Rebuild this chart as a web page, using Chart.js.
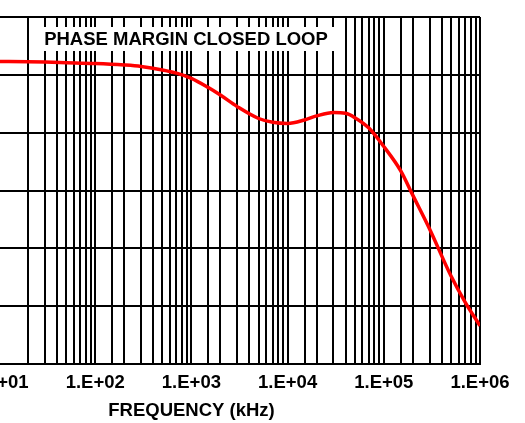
<!DOCTYPE html>
<html>
<head>
<meta charset="utf-8">
<script src="https://cdn.jsdelivr.net/npm/chart.js@4/dist/chart.umd.min.js"></script>
<style>
  body { margin: 0; background: #fff; overflow: hidden; width: 525px; height: 423px; position: relative; }
  #grafica { position: absolute; left: -100px; top: 0; }
</style>
</head>
<body>
<canvas id="grafica" width="625" height="423"></canvas>
<script>
// Frecuencia en kHz y margen de fase (grados)
const frecuencias = [10, 20, 30, 50, 100, 200, 300, 500, 700, 1000, 1500, 2000, 3000, 5000, 7000,
  10000, 15000, 20000, 30000, 40000, 50000, 70000, 100000, 150000, 200000, 300000, 500000, 700000, 1000000];
const margenFase = [52.3, 52.25, 52.2, 52.1, 51.96, 51.7, 51.45, 50.85, 50.3, 49.4, 47.8, 46.5, 44.5, 42.45, 41.8,
  41.6, 42.2, 42.9, 43.5, 43.35, 42.6, 40.8, 37.6, 33.4, 29.2, 23.3, 15.2, 10.7, 6.6];
const etiquetasDecadas = ['1.E+01', '1.E+02', '1.E+03', '1.E+04', '1.E+05', '1.E+06'];

const tituloGrafica = 'PHASE MARGIN CLOSED LOOP';
const tituloEjeX = 'FREQUENCY (kHz)';

const fuente = 'bold 18.5px "Liberation Sans", Arial, sans-serif';
Chart.defaults.font.family = '"Liberation Sans", Arial, sans-serif';
Chart.defaults.font.weight = 'bold';
Chart.defaults.font.size = 18.5;
Chart.defaults.color = '#000';

// Textos: caja del titulo sobre la rejilla y titulo del eje X
const textos = {
  id: 'textos',
  beforeDatasetsDraw(chart) {
    const ctx = chart.ctx;
    const a = chart.chartArea;
    ctx.save();
    ctx.fillStyle = '#fff';
    ctx.fillRect(a.left + 38, a.top + 10, 302, 24);
    ctx.fillStyle = '#000';
    ctx.font = fuente;
    ctx.textAlign = 'center';
    ctx.textBaseline = 'middle';
    ctx.fillText(tituloGrafica, a.left + 187, a.top + 23);
    ctx.restore();
  },
  afterDraw(chart) {
    const ctx = chart.ctx;
    ctx.save();
    ctx.fillStyle = '#000';
    ctx.font = fuente;
    ctx.textAlign = 'center';
    ctx.textBaseline = 'middle';
    ctx.fillText(tituloEjeX, chart.chartArea.left + 192.5, 411);
    ctx.restore();
  }
};

new Chart(document.getElementById('grafica'), {
  type: 'line',
  data: {
    datasets: [{
      data: frecuencias.map((f, i) => ({ x: f, y: margenFase[i] })),
      borderColor: '#ff0000',
      borderWidth: 3.5,
      pointRadius: 0,
      cubicInterpolationMode: 'monotone',
      fill: false
    }]
  },
  options: {
    responsive: false,
    devicePixelRatio: 1,
    animation: false,
    layout: { padding: { left: 99, right: 45, top: 17, bottom: 0 } },
    plugins: { legend: { display: false }, tooltip: { enabled: false } },
    scales: {
      x: {
        type: 'logarithmic',
        min: 10,
        max: 1000000,
        grid: { color: '#000', lineWidth: 2, drawTicks: false },
        border: { color: '#000', width: 2 },
        ticks: {
          autoSkip: false,
          maxRotation: 0,
          padding: 8,
          callback: (valor) => {
            const e = Math.log10(valor);
            return Math.abs(e - Math.round(e)) < 1e-9 ? etiquetasDecadas[Math.round(e) - 1] : '';
          }
        },
        afterFit: (escala) => { escala.height = 59; }
      },
      y: {
        min: 0,
        max: 60,
        ticks: { stepSize: 10, display: false },
        grid: { color: '#000', lineWidth: 2, drawTicks: false },
        border: { color: '#000', width: 2 },
        afterFit: (escala) => { escala.width = 0; }
      }
    }
  },
  plugins: [textos]
});
</script>
</body>
</html>
